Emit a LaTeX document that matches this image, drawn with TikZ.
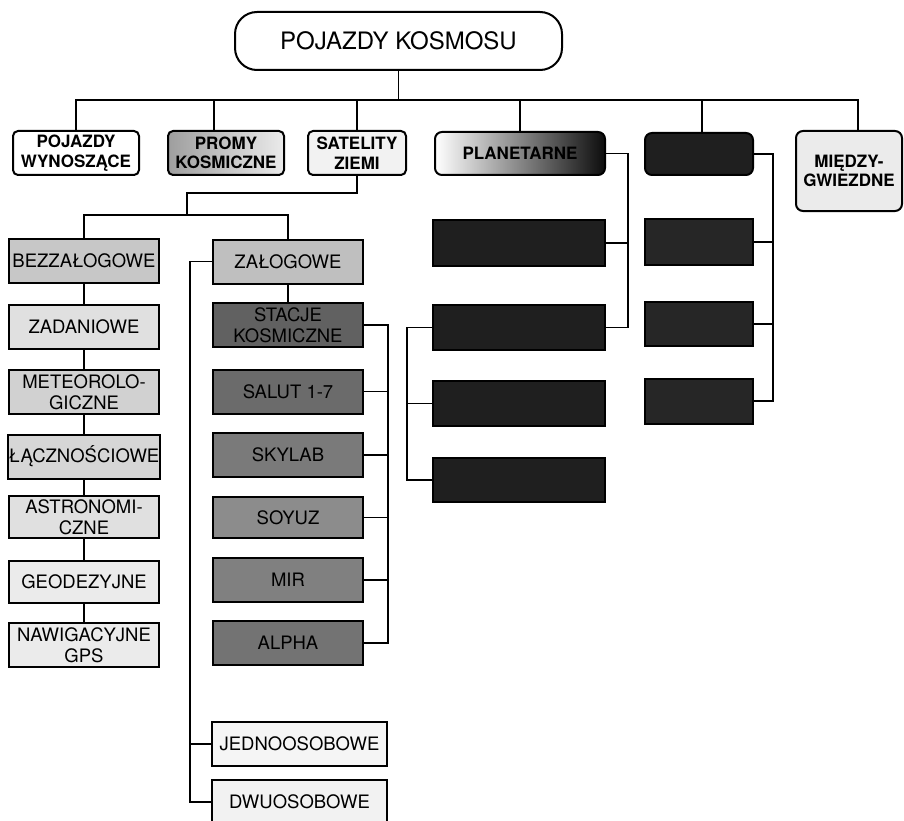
\documentclass[tikz,border=0pt]{standalone}
\usepackage{fontspec}
\setmainfont{TeX Gyre Heros}
\begin{document}
\begin{tikzpicture}[x=1pt,y=-1pt,
  base/.style={draw=black, line width=2pt, inner sep=1pt, align=center},
  rootbox/.style={base, rounded corners=22pt, minimum width=327pt, minimum height=58pt, font=\fontsize{24}{27}\selectfont},
  hdr/.style={base, rounded corners=5pt, minimum height=44pt, font=\bfseries\fontsize{17}{19.5}\selectfont},
  sbox/.style={base, minimum width=150pt, minimum height=44pt, font=\fontsize{18.5}{21}\selectfont},
  dbox/.style={base, fill=black!88},
  conn/.style={line width=1.6pt}]
\useasboundingbox (0,0) rectangle (904,821);
\fill[white] (0,0) rectangle (904,821);

% root
\node[rootbox, fill=white] (root) at (398.5,41) {POJAZDY KOSMOSU};

% level 1
\node[hdr, fill=white, minimum width=126pt] (pw) at (76,153) {POJAZDY\\WYNOSZĄCE};
\node[hdr, left color=black!38, right color=black!8, minimum width=116pt] (pk) at (226,153) {PROMY\\KOSMICZNE};
\node[hdr, fill=black!5, minimum width=98pt] (sz) at (357,153) {SATELITY\\ZIEMI};
\node[hdr, rounded corners=7pt, left color=white, middle color=black!40, right color=black!95, minimum width=170pt, minimum height=43pt] (pl) at (520,153.5) {PLANETARNE};
\node[hdr, rounded corners=7pt, fill=black!88, minimum width=108pt, minimum height=42pt] (dk) at (699,154) {};
\node[hdr, rounded corners=7pt, fill=black!8, minimum width=106pt, minimum height=80pt] (mg) at (849,171) {MIĘDZY-\\GWIEZDNE};

\coordinate (bus) at (398.5,100);
\draw[conn] (root.south) -- (bus);
\draw[conn] (pw.north) |- (bus);
\draw[conn] ([xshift=-12pt]pk.north) |- (bus);
\draw[conn] (sz.north) |- (bus);
\draw[conn] (pl.north) |- (bus);
\draw[conn] ([xshift=3pt]dk.north) |- (bus);
\draw[conn] ([xshift=9pt]mg.north) |- (bus);

% left column
\node[sbox, fill=black!22] (bz) at (84,261) {BEZZAŁOGOWE};
\node[sbox, fill=black!12] (zd) at (84,327) {ZADANIOWE};
\node[sbox, fill=black!18] (mt) at (84,392) {METEOROLO-\\GICZNE};
\node[sbox, fill=black!16] (lc) at (84,456.5) {ŁĄCZNOŚCIOWE};
\node[sbox, fill=black!12, minimum height=42pt] (as) at (84,517) {ASTRONOMI-\\CZNE};
\node[sbox, fill=black!8, minimum height=42pt] (ge) at (84,582) {GEODEZYJNE};
\node[sbox, fill=black!8] (nw) at (84,645) {NAWIGACYJNE\\GPS};

\draw[conn] (bz) -- (zd);
\draw[conn] (zd) -- (mt);
\draw[conn] (mt) -- (lc);
\draw[conn] (lc) -- (as);
\draw[conn] (as) -- (ge);
\draw[conn] (ge) -- (nw);

% middle column
\node[sbox, fill=black!25] (zl) at (288,261.5) {ZAŁOGOWE};
\node[sbox, fill=black!62] (st) at (288,325) {STACJE\\KOSMICZNE};
\node[sbox, fill=black!58] (sa) at (288,391.5) {SALUT 1-7};
\node[sbox, fill=black!52] (sk) at (288,455) {SKYLAB};
\node[sbox, fill=black!45, minimum height=41pt] (so) at (288,517.5) {SOYUZ};
\node[sbox, fill=black!50] (mi) at (288,580) {MIR};
\node[sbox, fill=black!55] (al) at (288,643) {ALPHA};
\node[sbox, fill=black!4, minimum width=175pt] (je) at (299.5,744) {JEDNOOSOBOWE};
\node[sbox, fill=black!5, minimum width=175pt] (dw) at (299.5,802) {DWUOSOBOWE};

% satelity connectors
\coordinate (s1) at (187,215);
\draw[conn] (sz.south) -- ++(0,17) -| (s1);
\draw[conn] (bz.north) |- (s1) -| (zl.north);
\draw[conn] (zl) -- (st);

\coordinate (zbus) at (190,261.5);
\draw[conn] (zl.west) -- (zbus) |- (dw.west);
\draw[conn] (je.west) -| (zbus);

\coordinate (mbus) at (388,325);
\draw[conn] (st.east) -- (mbus) |- (al.east);
\draw[conn] (sa.east) -| (mbus);
\draw[conn] (sk.east) -| (mbus);
\draw[conn] (so.east) -| (mbus);
\draw[conn] (mi.east) -| (mbus);

% planetarne column
\node[dbox, minimum width=172pt, minimum height=46pt] (p1) at (519,243) {};
\node[dbox, minimum width=172pt, minimum height=45pt] (p2) at (519,327.5) {};
\node[dbox, minimum width=172pt, minimum height=45pt] (p3) at (519,403.5) {};
\node[dbox, minimum width=172pt, minimum height=44pt] (p4) at (519,480) {};

\coordinate (pbus) at (628,153.5);
\draw[conn] (pl.east) -- (pbus) |- (p2.east);
\draw[conn] (p1.east) -| (pbus);
\coordinate (qbus) at (407,327.5);
\draw[conn] (p2.west) -- (qbus) |- (p4.west);
\draw[conn] (p3.west) -| (qbus);

% dark column
\node[dbox, fill=black!85, minimum width=108pt, minimum height=46pt] (d1) at (699,242) {};
\node[dbox, fill=black!85, minimum width=108pt, minimum height=44pt] (d2) at (699,324) {};
\node[dbox, fill=black!85, minimum width=108pt, minimum height=45pt] (d3) at (699,401) {};

\coordinate (dbus) at (773,154);
\draw[conn] (dk.east) -- (dbus) |- (d3.east);
\draw[conn] (d1.east) -| (dbus);
\draw[conn] (d2.east) -| (dbus);
\end{tikzpicture}
\end{document}
